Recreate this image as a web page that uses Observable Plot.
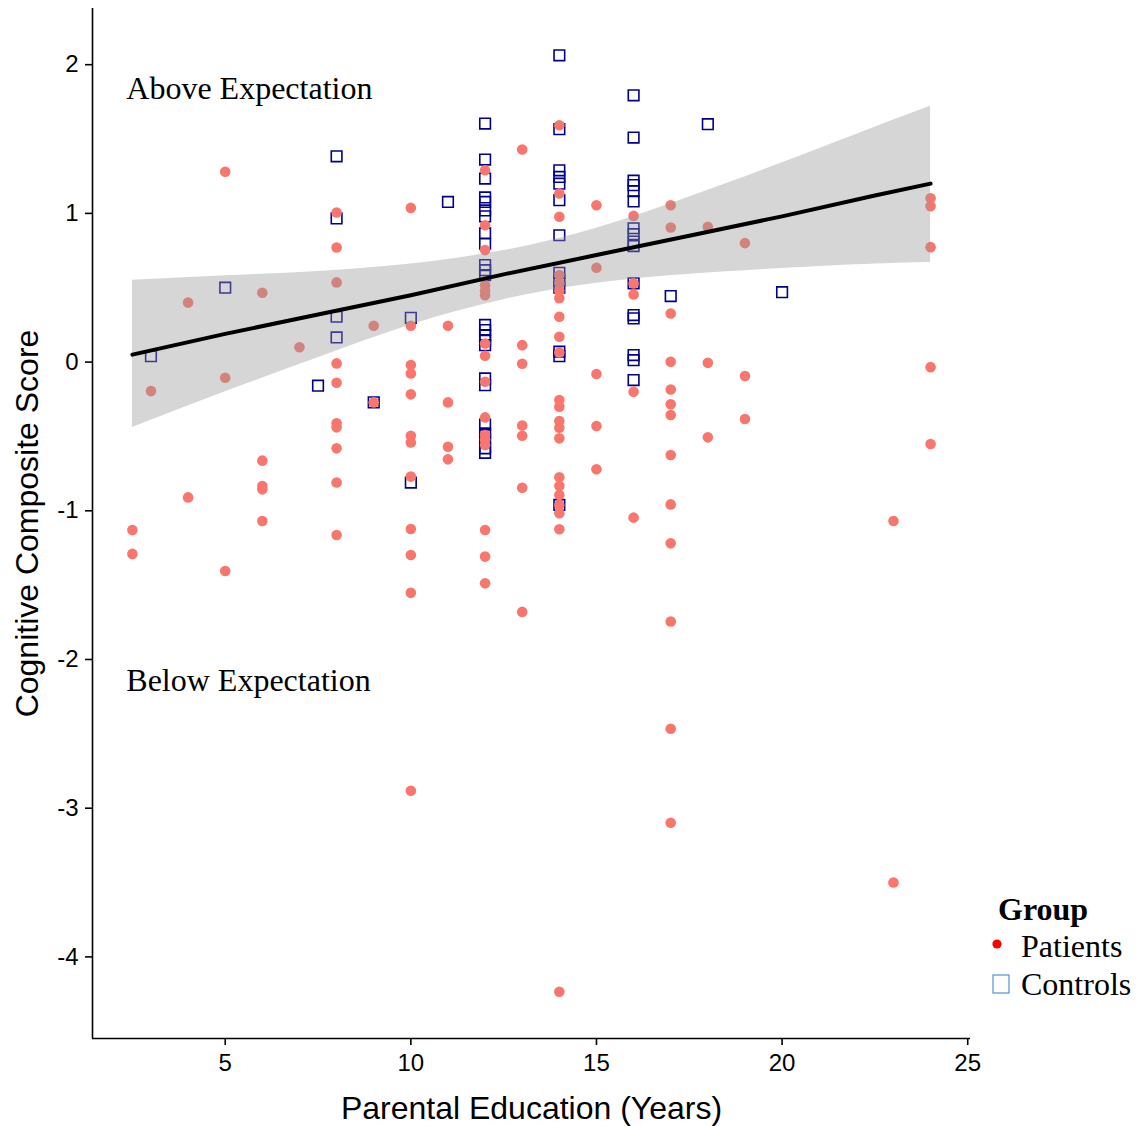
<!DOCTYPE html>
<html>
<head>
<meta charset="utf-8">
<script src="https://cdn.jsdelivr.net/npm/d3@7"></script>
<script src="https://cdn.jsdelivr.net/npm/@observablehq/plot@0.6"></script>
<style>
  body { margin: 0; background: #fff; }
  #wrap { position: relative; width: 1140px; height: 1126px; }
  .leg { position: absolute; font-family: "Liberation Serif", "Times New Roman", serif; font-size: 32px; line-height: 32px; color: #000; white-space: nowrap; }
</style>
</head>
<body>
<div id="wrap"></div>
<script>
// ---- Data ----
// Patients: parental education (years) and cognitive composite score
const patientEdu = [
  2.5, 2.5,
  3,
  4, 4,
  5, 5, 5,
  6, 6, 6, 6, 6,
  7,
  8, 8, 8, 8, 8, 8, 8, 8, 8, 8,
  9, 9,
  10, 10, 10, 10, 10, 10, 10, 10, 10, 10, 10, 10,
  11, 11, 11, 11,
  12, 12, 12, 12, 12, 12, 12, 12, 12, 12, 12, 12, 12, 12, 12, 12,
  13, 13, 13, 13, 13, 13, 13,
  14, 14, 14, 14, 14, 14, 14, 14, 14, 14, 14, 14, 14, 14, 14, 14, 14, 14, 14, 14, 14, 14,
  15, 15, 15, 15, 15,
  16, 16, 16, 16, 16,
  17, 17, 17, 17, 17, 17, 17, 17, 17, 17, 17, 17, 17,
  18, 18, 18,
  19, 19, 19,
  23, 23,
  24, 24, 24, 24, 24
];
const patientScore = [
  -1.13, -1.29,
  -0.195,
  0.40, -0.91,
  1.28, -0.105, -1.405,
  0.466, -0.663, -0.833, -0.856, -1.069,
  0.10,
  1.006, 0.771, 0.536, -0.009, -0.139, -0.412, -0.439, -0.58, -0.81, -1.163,
  0.244, -0.271,
  1.037, 0.244, -0.02, -0.076, -0.217, -0.495, -0.54, -0.77, -1.122, -1.297, -1.552, -2.883,
  0.244, -0.271, -0.569, -0.654,
  1.29, 0.92, 0.753, 0.517, 0.48, 0.45, 0.125, 0.043, -0.132, -0.372, -0.49, -0.52, -0.558, -1.129, -1.308, -1.487,
  1.43, 0.114, -0.011, -0.426, -0.495, -0.845, -1.68,
  1.593, 1.134, 0.977, 0.585, 0.53, 0.48, 0.43, 0.305, 0.17, 0.065, -0.255, -0.3, -0.397, -0.441, -0.513, -0.775, -0.833, -0.894, -0.961, -1.017, -1.124, -4.234,
  1.055, 0.634, -0.08, -0.43, -0.721,
  0.983, 0.529, 0.455, -0.2, -1.046,
  1.055, 0.905, 0.327, 0.002, -0.184, -0.284, -0.356, -0.625, -0.957, -1.219, -1.745, -2.466, -3.098,
  0.909, -0.005, -0.506,
  0.80, -0.094, -0.383,
  -1.069, -3.5,
  1.102, 1.048, 0.773, -0.034, -0.551
];

// Controls
const controlEdu = [
  3,
  5,
  7.5,
  8, 8, 8, 8,
  9,
  10, 10,
  11,
  12, 12, 12, 12, 12, 12, 12, 12, 12, 12, 12, 12, 12, 12, 12, 12, 12, 12, 12, 12, 12, 12, 12, 12,
  14, 14, 14, 14, 14, 14, 14, 14, 14, 14, 14, 14, 14,
  16, 16, 16, 16, 16, 16, 16, 16, 16, 16, 16, 16, 16, 16, 16, 16,
  17,
  18,
  20
];
const controlScore = [
  0.04,
  0.50,
  -0.159,
  1.384, 0.966, 0.305, 0.166,
  -0.271,
  0.298, -0.81,
  1.077,
  1.604, 1.362, 1.234, 1.107, 1.077, 1.02, 0.98, 0.865, 0.797, 0.652, 0.618, 0.585, 0.25, 0.215, 0.181, 0.148, 0.114, -0.11, -0.155, -0.42, -0.48, -0.52, -0.58, -0.61,
  2.063, 1.566, 1.29, 1.245, 1.2, 1.089, 0.853, 0.6, 0.55, 0.5, 0.07, 0.04, -0.961,
  1.794, 1.51, 1.22, 1.19, 1.15, 1.08, 0.9, 0.86, 0.81, 0.78, 0.53, 0.316, 0.294, 0.047, 0.013, -0.121,
  0.444,
  1.6,
  0.47
];

// Expectation line (fitted trend) and its confidence band
const fitEdu   = [2.5,   5,     7.5,  10,   12.5, 15,   17.5, 20,   22.5, 24];
const fitScore = [0.05,  0.19,  0.32, 0.45, 0.59, 0.72, 0.85, 0.98, 1.12, 1.20];
const fitLower = [-0.44, -0.20, 0.03, 0.25, 0.42, 0.53, 0.59, 0.63, 0.66, 0.67];
const fitUpper = [0.55,  0.58,  0.61, 0.66, 0.75, 0.90, 1.11, 1.34, 1.58, 1.72];

const groupLabels = ["Patients", "Controls"];
const legendTitle = "Group";
const xTicks = [5, 10, 15, 20, 25];
const yTicks = [-4, -3, -2, -1, 0, 1, 2];
const xTitle = "Parental Education (Years)";
const yTitle = "Cognitive Composite Score";
const annotationText = ["Above Expectation", "Below Expectation"];
const annotationX = [2.335, 2.335];
const annotationY = [1.841, -2.144];

// ---- Derived tables ----
const patients = patientEdu.map((x, i) => ({x, y: patientScore[i]}));
const controls = controlEdu.map((x, i) => ({x, y: controlScore[i]}));
const fit = fitEdu.map((x, i) => ({x, yhat: fitScore[i], lo: fitLower[i], hi: fitUpper[i]}));
const annotations = annotationText.map((t, i) => ({x: annotationX[i], y: annotationY[i], t}));

const allX = patientEdu.concat(controlEdu);
const allY = patientScore.concat(controlScore);
const [xMin, xMax] = d3.extent(allX);
const [yMin, yMax] = d3.extent(allY);
const xPad = (xMax - xMin) * 0.05, yPad = (yMax - yMin) * 0.05;
const xDomain = [xMin - xPad, xMax + xPad];
const yDomain = [yMin - yPad, yMax + yPad];

// ---- Plot ----
const plot = Plot.plot({
  width: 1140,
  height: 1126,
  marginLeft: 92,
  marginRight: 170,
  marginTop: 8,
  marginBottom: 88,
  style: {fontFamily: "'Liberation Sans', Arial, sans-serif", fontSize: "24px", color: "#000", background: "#fff"},
  x: {domain: xDomain},
  y: {domain: yDomain},
  marks: [
    Plot.dot(controls, {x: "x", y: "y", symbol: "square", r: 6, stroke: "#00008B", strokeWidth: 1.6, fill: "none"}),
    Plot.dot(patients, {x: "x", y: "y", r: 5.3, fill: "#F8766D", stroke: null}),
    Plot.areaY(fit, {x: "x", y1: "lo", y2: "hi", fill: "#999999", fillOpacity: 0.4, curve: "natural"}),
    Plot.line(fit, {x: "x", y: "yhat", stroke: "#000", strokeWidth: 4}),
    Plot.ruleX([xDomain[0]], {stroke: "#000", strokeWidth: 1.6}),
    Plot.ruleY([yDomain[0]], {stroke: "#000", strokeWidth: 1.6}),
    Plot.axisX({ticks: xTicks, tickFormat: d => String(d), tickSize: 7, tickPadding: 8, label: null, fontSize: 24, strokeWidth: 1.6}),
    Plot.axisY({ticks: yTicks, tickFormat: d => String(d), tickSize: 7, tickPadding: 7, label: null, fontSize: 24, strokeWidth: 1.6}),
    Plot.text(annotations, {x: "x", y: "y", text: "t", textAnchor: "start", lineAnchor: "middle",
      fontFamily: "'Liberation Serif', 'Times New Roman', serif", fontSize: 32, fill: "#000"}),
    Plot.text([xTitle], {text: d => d, frameAnchor: "bottom", textAnchor: "middle", lineAnchor: "middle", dy: 70, fontSize: 32, fill: "#000"}),
    Plot.text([yTitle], {text: d => d, frameAnchor: "left", textAnchor: "middle", lineAnchor: "middle", rotate: -90, dx: -65, fontSize: 32, fill: "#000"})
  ]
});

const wrap = document.getElementById("wrap");
wrap.appendChild(plot);

// ---- Legend (HTML, positioned over the right margin) ----
function addDiv(html, left, top, extra = "") {
  const d = document.createElement("div");
  d.className = "leg";
  d.style.left = left + "px";
  d.style.top = top + "px";
  d.style.cssText += extra;
  d.innerHTML = html;
  wrap.appendChild(d);
}
addDiv(legendTitle, 998, 893, "font-weight:bold;");
addDiv(groupLabels[0], 1021, 930);
addDiv(groupLabels[1], 1021, 968);
addDiv('<svg width="12" height="12"><circle cx="6" cy="6" r="4.6" fill="#FF0000"/></svg>', 991, 938, "line-height:0;");
addDiv('<svg width="18" height="20"><rect x="1" y="1" width="16" height="18" fill="none" stroke="#5B9BD5" stroke-width="1.3"/></svg>', 992, 974, "line-height:0;");
</script>
</body>
</html>
